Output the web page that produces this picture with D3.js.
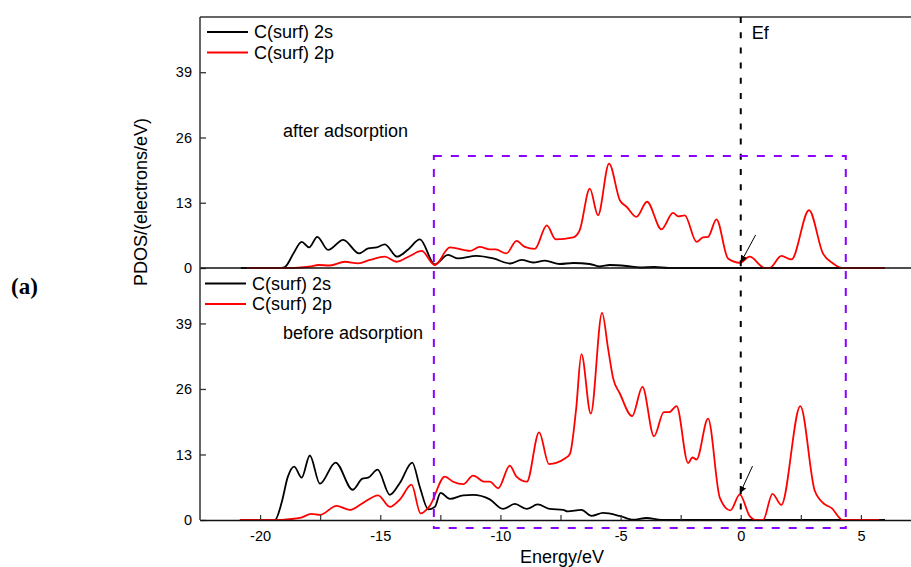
<!DOCTYPE html>
<html>
<head>
<meta charset="utf-8">
<script src="https://cdn.jsdelivr.net/npm/d3@7/dist/d3.min.js"></script>
<style>
  html, body { margin: 0; padding: 0; background: #fff; }
  svg { display: block; font-family: "Liberation Sans", Arial, sans-serif; }
</style>
</head>
<body>
<div id="viz"></div>
<script>
// PDOS of surface carbon, [energy eV, states]
var afterS = [[-20.8,0],[-19.2,0],[-18.97,0.2],[-18.6,3],[-18.27,5.2],[-17.96,4.1],[-17.62,6.2],[-17.17,3.6],
  [-16.54,5.6],[-15.88,2.9],[-15.5,3.9],[-15.15,4.1],[-14.81,4.7],[-14.3,2.25],[-13.84,3.7],[-13.35,5.7],
  [-12.73,0.7],[-12.18,2.6],[-11.76,1.9],[-11.0,2.4],[-10.3,1.9],[-9.6,0.9],[-9.12,1.6],[-8.64,1.1],
  [-8.15,1.45],[-7.53,0.8],[-6.97,1.0],[-6.28,0.8],[-5.87,0.3],[-5.45,0.6],[-4.75,0.4],[-4.2,0.1],
  [-3.58,0.2],[-3.0,0],[6.0,0]];
var afterP = [[-20.56,0],[-18.8,0],[-18.3,0.1],[-17.9,0.3],[-17.58,0.6],[-17.1,0.5],[-16.47,1.25],[-15.92,0.93],
  [-15.43,1.6],[-14.81,2.25],[-14.32,1.25],[-13.77,2.4],[-13.28,3.4],[-12.73,0.6],[-12.1,4.1],[-11.27,3.4],
  [-10.86,4.2],[-10.44,3.7],[-10.2,3.7],[-9.75,2.9],[-9.33,5.4],[-8.98,4.2],[-8.57,3.8],[-8.07,8.5],
  [-7.7,5.7],[-6.97,6.1],[-6.7,7.55],[-6.28,15.8],[-5.94,10.5],[-5.48,20.8],[-5.03,13.5],[-4.75,12.2],
  [-4.34,10.2],[-3.9,13.2],[-3.3,7.7],[-2.82,11.0],[-2.6,10.3],[-2.33,10.5],[-1.84,5.2],[-1.57,6.1],
  [-1.36,6.2],[-1.01,9.7],[-0.53,1.9],[-0.04,1.05],[0.37,2.25],[1.0,0],[1.2,0],[1.69,2.4],[2.11,1.7],
  [2.84,11.5],[3.42,2.9],[3.84,0.9],[4.2,0],[6.0,0]];
var beforeS = [[-20.84,0],[-19.38,0],[-19.1,3.5],[-18.85,8.5],[-18.58,10.6],[-18.27,8.4],[-17.93,12.8],
  [-17.51,7.2],[-16.86,11.4],[-16.15,6.0],[-15.74,8.2],[-15.5,8.4],[-15.11,10.0],[-14.6,5.0],[-14.18,7.4],
  [-13.67,11.4],[-13.35,6.5],[-13.0,2.1],[-12.73,2.6],[-12.49,5.4],[-12.1,4.2],[-11.55,4.9],[-11.14,5.0],
  [-10.44,4.1],[-9.89,2.2],[-9.4,3.2],[-8.9,2.2],[-8.45,3.1],[-7.95,2.2],[-7.39,2.0],[-7.2,1.7],
  [-6.63,2.0],[-6.21,0.8],[-5.73,1.4],[-5.03,0.8],[-4.48,0.05],[-3.92,0.4],[-3.3,0],[6.0,0]];
var beforeP = [[-20.84,0],[-19.2,0],[-18.8,0.15],[-18.34,0.4],[-17.86,1.2],[-17.51,1.0],[-16.82,2.8],
  [-16.26,2.0],[-15.71,3.4],[-15.09,4.9],[-14.6,2.6],[-14.18,4.1],[-13.7,7.0],[-13.32,1.3],[-12.94,2.8],
  [-12.31,8.6],[-11.97,7.6],[-11.55,7.1],[-11.14,8.8],[-10.65,7.6],[-10.44,7.6],[-10.09,6.3],[-9.61,10.8],
  [-9.33,8.6],[-8.9,7.6],[-8.39,17.4],[-7.98,11.1],[-7.32,12.2],[-7.11,13.1],[-6.85,22],[-6.63,32.9],
  [-6.24,21.1],[-5.77,41.1],[-5.52,34],[-5.31,28.1],[-5.03,25.1],[-4.52,20.6],[-4.09,26.4],[-3.61,16.6],
  [-3.2,21.4],[-2.98,21.4],[-2.67,22.6],[-2.19,11.3],[-2.01,12.4],[-1.84,12.0],[-1.36,20.1],[-0.87,4.4],
  [-0.43,1.9],[-0.04,5.1],[0.37,0.8],[0.65,0],[0.93,0],[1.32,5.2],[1.69,3.0],[2.48,22.6],[3.08,5.8],
  [3.5,3.1],[3.77,2.4],[4.19,0.1],[4.3,0],[5.75,0]];

var yTicks = [0, 13, 26, 39];
var xTicks = [-20, -15, -10, -5, 0, 5];
var xMinor = [-17.5, -12.5, -7.5, -2.5, 2.5];
var seriesNames = ["C(surf) 2s", "C(surf) 2p"];
var seriesColors = ["#000000", "#ff0000"];

// highlighted energy window (eV) and arrow [from, to] in data units
var boxE = [-12.77, 4.37];
var arrowTop = [[0.62, 6.6], [0.0, 1.1]];
var arrowBot = [[0.49, 10.7], [-0.03, 5.3]];

var W = 911, H = 567;
var svg = d3.select("#viz").append("svg").attr("width", W).attr("height", H);

var x = d3.scaleLinear().domain([-22.5, 7.5]).range([200, 921]);
var yTop = d3.scaleLinear().domain([0, 50]).range([268, 17]);
var yBot = d3.scaleLinear().domain([0, 50]).range([520, 268]);

svg.append("defs").append("marker")
  .attr("id", "head").attr("viewBox", "0 0 10 10")
  .attr("refX", 10).attr("refY", 5)
  .attr("markerWidth", 7).attr("markerHeight", 7)
  .attr("markerUnits", "userSpaceOnUse")
  .attr("orient", "auto")
  .append("path").attr("d", "M0,0L10,5L0,10z").attr("fill", "#000");

function drawPanel(y, sData, pData) {
  var line = d3.line()
    .x(function (d) { return x(d[0]); })
    .y(function (d) { return y(d[1]); })
    .curve(d3.curveMonotoneX);
  [sData, pData].forEach(function (data, i) {
    svg.append("path").datum(data)
      .attr("fill", "none")
      .attr("stroke", seriesColors[i])
      .attr("stroke-width", 1.8)
      .attr("stroke-linejoin", "round")
      .attr("d", line);
  });
  var ax = svg.append("g").attr("transform", "translate(200,0)")
    .call(d3.axisLeft(y).tickValues(yTicks).tickSizeInner(-6).tickSizeOuter(0).tickPadding(8));
  ax.select(".domain").remove();
  ax.selectAll("line").attr("stroke", "#333").attr("stroke-width", 1.3);
  ax.selectAll("text").attr("font-size", 14.5).attr("font-family", "Liberation Sans, Arial, sans-serif").attr("fill", "#000");
}

drawPanel(yTop, afterS, afterP);
drawPanel(yBot, beforeS, beforeP);

// frame lines
svg.append("line").attr("x1", 200).attr("x2", W).attr("y1", 17).attr("y2", 17)
  .attr("stroke", "#333").attr("stroke-width", 1.5);
svg.append("line").attr("x1", 200).attr("x2", W).attr("y1", yTop(0)).attr("y2", yTop(0))
  .attr("stroke", "#111").attr("stroke-width", 1.5);
svg.append("line").attr("x1", 200).attr("x2", 200).attr("y1", 17).attr("y2", 520)
  .attr("stroke", "#333").attr("stroke-width", 1.5);

// bottom energy axis
var xa = svg.append("g").attr("transform", "translate(0,520)")
  .call(d3.axisBottom(x).tickValues(xTicks).tickSizeInner(-5).tickSizeOuter(0).tickPadding(11)
    .tickFormat(function (d) { return String(d); }));
xa.select(".domain").attr("stroke", "#111").attr("stroke-width", 1.5);
xa.selectAll("line").attr("stroke", "#333").attr("stroke-width", 1.2);
xa.selectAll("text").attr("font-size", 14.5).attr("font-family", "Liberation Sans, Arial, sans-serif").attr("fill", "#000");
var xm = svg.append("g").attr("transform", "translate(0,520)")
  .call(d3.axisBottom(x).tickValues(xMinor).tickSizeInner(-5).tickSizeOuter(0).tickFormat(""));
xm.select(".domain").remove();
xm.selectAll("line").attr("stroke", "#333").attr("stroke-width", 1.2);

// Fermi level
svg.append("line").attr("x1", x(0)).attr("x2", x(0)).attr("y1", 17).attr("y2", 520)
  .attr("stroke", "#000").attr("stroke-width", 2).attr("stroke-dasharray", "6,9.2");
svg.append("text").attr("x", x(0) + 11).attr("y", 39).attr("font-size", 18).text("Ef");

// highlighted window
svg.append("rect")
  .attr("x", x(boxE[0])).attr("y", yTop(22.3))
  .attr("width", x(boxE[1]) - x(boxE[0]))
  .attr("height", yBot(-1.6) - yTop(22.3))
  .attr("fill", "none").attr("stroke", "#8b00ff").attr("stroke-width", 2)
  .attr("stroke-dasharray", "8,9");

// arrows
[[arrowTop, yTop], [arrowBot, yBot]].forEach(function (a) {
  var p = a[0], y = a[1];
  svg.append("line")
    .attr("x1", x(p[0][0])).attr("y1", y(p[0][1]))
    .attr("x2", x(p[1][0])).attr("y2", y(p[1][1]))
    .attr("stroke", "#000").attr("stroke-width", 1)
    .attr("marker-end", "url(#head)");
});

// legends
function legend(x0, y0) {
  seriesNames.forEach(function (name, i) {
    var yy = y0 + i * 20.5;
    svg.append("line").attr("x1", x0).attr("x2", x0 + 41).attr("y1", yy).attr("y2", yy)
      .attr("stroke", seriesColors[i]).attr("stroke-width", 1.8);
    svg.append("text").attr("x", x0 + 47).attr("y", yy).attr("dy", "0.35em")
      .attr("font-size", 18).text(name);
  });
}
legend(207, 32);
legend(205, 283.5);

svg.append("text").attr("x", 283).attr("y", 137).attr("font-size", 18).text("after adsorption");
svg.append("text").attr("x", 283).attr("y", 339).attr("font-size", 18).text("before adsorption");

// axis titles
svg.append("text").attr("transform", "translate(147,202) rotate(-90)")
  .attr("text-anchor", "middle").attr("font-size", 18).text("PDOS/(electrons/eV)");
svg.append("text").attr("x", 562).attr("y", 563)
  .attr("text-anchor", "middle").attr("font-size", 18).text("Energy/eV");

// panel label
svg.append("text").attr("x", 11).attr("y", 294)
  .attr("font-family", "Liberation Serif, Times New Roman, serif")
  .attr("font-size", 23).attr("font-weight", "bold").text("(a)");
</script>
</body>
</html>
